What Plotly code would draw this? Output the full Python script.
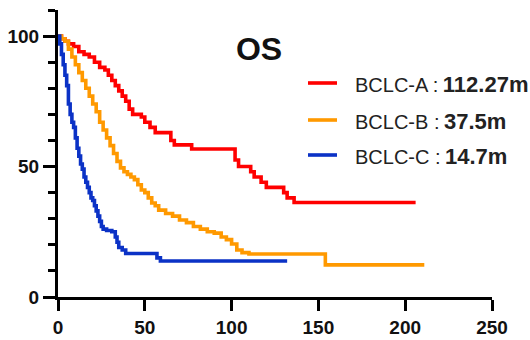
import plotly.graph_objects as go

# Kaplan-Meier step data (months, % survival)
a_t = [0, 2, 4, 6, 9, 12, 15, 18, 21, 24, 27, 29, 31, 33, 35, 37, 39, 41, 43, 48, 50, 53, 56,
       65, 67, 77, 102, 104, 111, 113, 117, 120, 130, 132, 136, 206]
a_s = [100, 99, 98, 97, 96, 94, 93, 92, 90, 88, 87, 85, 83, 81, 79, 77, 75, 72, 70, 69, 67, 65, 63,
       60, 58.3, 56.7, 52.5, 50, 48, 46, 44, 42, 40, 38, 36.2, 36.2]

b_t = [0, 2, 4, 6, 8, 10, 12, 14, 16, 18, 20, 22, 24, 26, 28, 30, 32, 34, 36, 38, 40, 42, 44, 46,
       48, 50, 52, 54, 56, 58, 62, 66, 70, 74, 78, 82, 86, 90, 94, 97, 100, 103, 106, 110, 154, 211]
b_s = [100, 99, 98, 95, 92, 89, 86, 83, 80, 77, 74, 71, 67, 64, 61, 58, 55, 52, 49.5, 48, 47, 46,
       45, 43, 41, 40, 38, 36, 35, 33.3, 32, 31, 29.5, 28.5, 27, 26, 25, 24.5, 23, 22, 20.3, 18,
       17, 16.5, 12.3, 12.3]

c_t = [0, 1, 2, 3, 4, 5, 6, 7, 8, 9, 10, 11, 12, 13, 14, 15, 16, 17, 18, 19, 20, 21, 22, 23, 24,
       25, 26, 28, 31, 33, 34, 35, 37, 39, 57, 59, 132]
c_s = [100, 97, 93, 89, 85, 81, 74, 70, 67, 65, 61, 57, 54, 51, 49, 46, 44, 42, 40, 38, 37, 35,
       33, 31, 29, 27, 26, 25.5, 25, 23, 21, 19, 18, 16.7, 15, 13.8, 13.8]

groups = ["BCLC-A", "BCLC-B", "BCLC-C"]
medians = ["112.27m", "37.5m", "14.7m"]
colors = ["#FF0000", "#FF9900", "#0B32C6"]

x_ticks = [0, 50, 100, 150, 200, 250]
y_ticks = [0, 50, 100]

# plot area in pixels (for placing the hand-drawn legend)
L, R, T, B = 58, 492, 10, 297
def px(xp):
    return (xp - L) / (R - L)
def py(yp):
    return (B - yp) / (B - T)

fig = go.Figure()
for i, (t, s) in enumerate([(a_t, a_s), (b_t, b_s), (c_t, c_s)]):
    fig.add_trace(go.Scatter(
        x=t, y=s, mode="lines", name=groups[i], showlegend=False,
        line=dict(color=colors[i], width=3.6, shape="hv"),
    ))

legend_y = [83, 120, 155]
for i in range(3):
    fig.add_shape(type="line", xref="paper", yref="paper",
                  x0=px(308), x1=px(337), y0=py(legend_y[i]), y1=py(legend_y[i]),
                  line=dict(color=colors[i], width=3.6))
    fig.add_annotation(
        xref="paper", yref="paper", x=px(353), y=py(legend_y[i] + 1),
        xanchor="left", yanchor="middle", showarrow=False,
        text=(f"{groups[i]} :<span style='font-size:16px'> </span>"
              f"<b><span style='font-size:22px'>{medians[i]}</span></b>"),
        font=dict(family="Liberation Sans, Arial", size=20, color="#222"))

axis_font = dict(family="Liberation Sans, Arial", size=19, color="#111", weight="bold")

fig.update_layout(
    width=530, height=340,
    margin=dict(l=L, r=530 - R, t=T, b=340 - B),
    plot_bgcolor="white", paper_bgcolor="white",
    showlegend=False,
    title=dict(text="<b>OS</b>", x=259 / 530, y=1 - 49 / 340, xanchor="center", yanchor="middle",
               font=dict(family="Liberation Sans, Arial", size=32, color="#111")),
    xaxis=dict(range=[0, 250], tickvals=x_ticks, showgrid=False, zeroline=False,
               automargin=False,
               showline=True, linecolor="black", linewidth=3,
               ticks="outside", ticklen=11, tickwidth=3, tickcolor="black",
               tickfont=axis_font),
    yaxis=dict(range=[0, 110], tickvals=y_ticks, showgrid=False, zeroline=False,
               automargin=False,
               showline=True, linecolor="black", linewidth=3,
               ticks="outside", ticklen=12, tickwidth=3, tickcolor="black",
               tickfont=axis_font,
               minor=dict(dtick=10, ticks="outside", ticklen=7, tickwidth=3, tickcolor="black",
                          showgrid=False)),
)

fig.write_html("out.html")
